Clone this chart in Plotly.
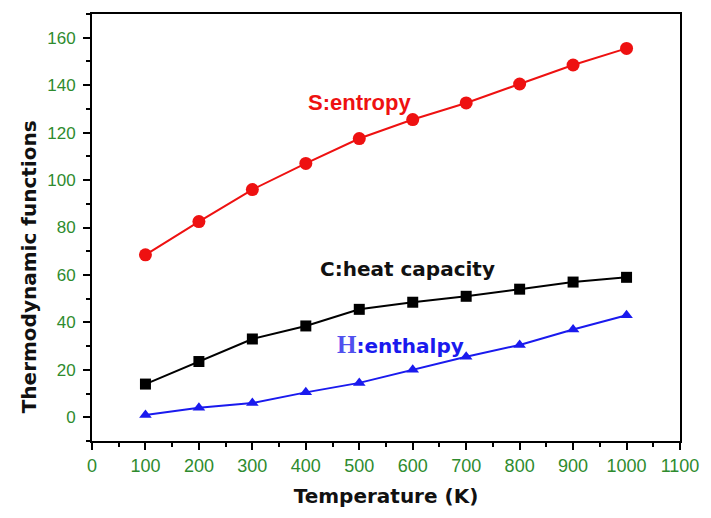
import plotly.graph_objects as go

temps = [100, 200, 300, 400, 500, 600, 700, 800, 900, 1000]
entropy = [68.5, 82.5, 96, 107, 117.5, 125.5, 132.5, 140.5, 148.5, 155.5]
heat_capacity = [14, 23.5, 33, 38.5, 45.5, 48.5, 51, 54, 57, 59]
enthalpy = [1, 4, 6, 10.5, 14.5, 20, 25.5, 30.5, 37, 43]

x_ticks = list(range(0, 1101, 100))
y_ticks = list(range(0, 161, 20))

fig = go.Figure()
fig.add_trace(go.Scatter(x=temps, y=entropy, mode="lines+markers",
                         line=dict(color="#ee1111", width=2),
                         marker=dict(symbol="circle", size=13, color="#ee1111")))
fig.add_trace(go.Scatter(x=temps, y=heat_capacity, mode="lines+markers",
                         line=dict(color="black", width=2),
                         marker=dict(symbol="square", size=11, color="black")))
fig.add_trace(go.Scatter(x=temps, y=enthalpy, mode="lines+markers",
                         line=dict(color="#1a1aee", width=2),
                         marker=dict(symbol="triangle-up", size=11, color="#1a1aee")))

fig.add_annotation(x=500, y=132.5, text="<b>S:entropy</b>", showarrow=False,
                   font=dict(family="Liberation Sans", size=22, color="#ee1111"))
fig.add_annotation(x=590, y=62.7, text="<b>C:heat capacity</b>", showarrow=False,
                   font=dict(family="DejaVu Sans", size=20, color="#111111"))
fig.add_annotation(x=577, y=30.5,
                   text="<b><span style='font-family:Liberation Serif;font-size:25px;color:#5050ee'>H</span>:enthalpy</b>",
                   showarrow=False,
                   font=dict(family="DejaVu Sans", size=20, color="#1a1aee"))

# y-axis title (placed lower than centre, as in the original)
fig.add_annotation(xref="paper", yref="paper", x=-0.108, y=0.408,
                   text="<b>Thermodynamic functions</b>", textangle=-90,
                   showarrow=False, xanchor="center", yanchor="middle",
                   font=dict(family="DejaVu Sans", size=20, color="#111111"))

axis_common = dict(showline=True, linecolor="black", linewidth=2, mirror=True,
                   ticks="outside", tickcolor="black", tickwidth=2, ticklen=7,
                   showgrid=False, zeroline=False)

fig.update_xaxes(range=[0, 1100], tickvals=x_ticks,
                 tickfont=dict(family="Liberation Sans", size=18, color="#2e8b2e"),
                 minor=dict(dtick=50, ticks="outside", ticklen=4, tickwidth=2, tickcolor="black"),
                 title=dict(text="<b>Temperature (K)</b>",
                            font=dict(family="DejaVu Sans", size=20, color="#111111"),
                            standoff=14),
                 **axis_common)
fig.update_yaxes(range=[-10, 170], tickvals=y_ticks,
                 tickfont=dict(family="Liberation Sans", size=17, color="#2e8b2e"),
                 ticklabelstandoff=4,
                 minor=dict(dtick=10, ticks="outside", ticklen=4, tickwidth=2, tickcolor="black"),
                 **axis_common)

fig.update_layout(width=711, height=518, showlegend=False,
                  margin=dict(l=92, r=28, t=12, b=77),
                  plot_bgcolor="white", paper_bgcolor="white")

fig.write_html("out.html")
